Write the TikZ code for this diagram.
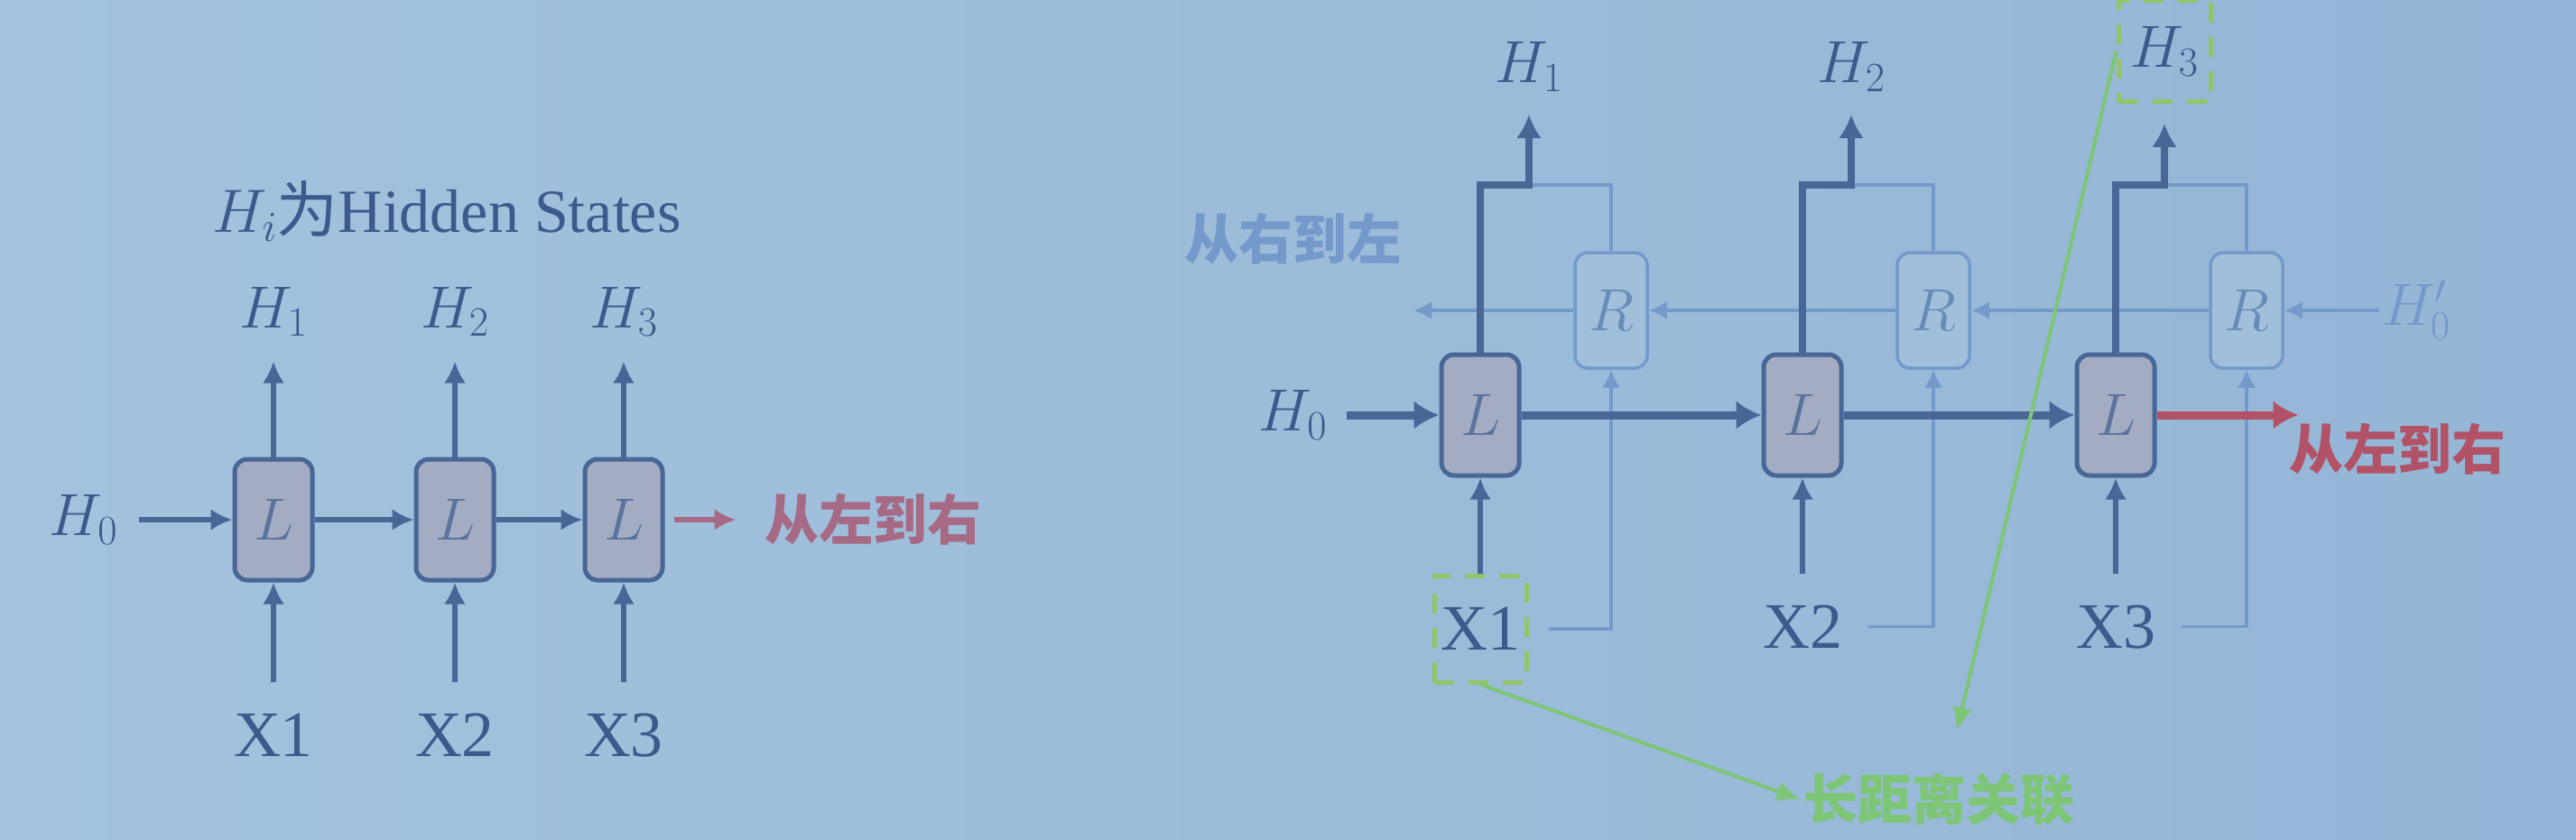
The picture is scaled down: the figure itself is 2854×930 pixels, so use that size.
\RequirePackage{fix-cm}
\documentclass[tikz,border=0pt]{standalone}
\usepackage{fontspec}
\setmainfont{Liberation Serif}
\newfontfamily\cjk{Noto Sans CJK SC}
\usetikzlibrary{positioning,arrows.meta}
\definecolor{bgl}{RGB}{164,194,221}
\definecolor{bgc}{RGB}{148,182,214}
\definecolor{linec}{RGB}{72,102,150}
\definecolor{textc}{RGB}{62,90,140}
\definecolor{cellc}{RGB}{163,172,194}
\definecolor{backc}{RGB}{116,154,204}
\definecolor{redc}{RGB}{178,82,102}
\definecolor{mauvec}{RGB}{166,106,132}
\definecolor{keyc}{RGB}{124,198,118}
\definecolor{dashc}{RGB}{148,196,104}
\tikzset{
  lcell/.style    = {draw=linec, line width=5pt, fill=cellc, rounded corners=14pt,
                     minimum width=86pt, minimum height=134pt, inner sep=0pt,
                     font=\fontsize{66}{66}\selectfont, text=textc!85!white},
  rcell/.style    = {draw=backc, line width=3.5pt, fill=bgc!88!white, rounded corners=14pt,
                     minimum width=80pt, minimum height=128pt, inner sep=0pt,
                     font=\fontsize{66}{66}\selectfont, text=backc!90!black},
  title/.style    = {text=textc, font=\fontsize{68}{68}\selectfont},
  hlab/.style     = {text=textc, font=\fontsize{66}{66}\selectfont},
  xlab/.style     = {text=textc, font=\fontsize{72}{72}\selectfont,
                     minimum width=102pt, minimum height=118pt, inner sep=0pt},
  keybox/.style   = {draw=dashc, line width=5pt, dash pattern=on 22pt off 16pt},
  cntxt/.style    = {font=\cjk\bfseries\fontsize{60}{60}\selectfont},
  flow/.style     = {-{Latex[length=24pt,width=24pt]}, line width=6pt, draw=linec},
  chain/.style    = {-{Latex[length=28pt,width=32pt]}, line width=9pt, draw=linec},
  outflow/.style  = {-{Latex[length=26pt,width=28pt]}, line width=8pt, draw=linec},
  backline/.style = {line width=3.5pt, draw=backc},
  backflow/.style = {backline, -{Latex[length=20pt,width=20pt]}},
  link/.style     = {-{Latex[length=26pt,width=22pt]}, line width=4pt, draw=keyc},
}
\begin{document}
\begin{tikzpicture}[x=1pt, y=1pt]
\fill[left color=bgl, right color=bgc] (0,0) rectangle (2854,-930);
\useasboundingbox (0,0) rectangle (2854,-930);

% one direction
\node[title] (ttl) at (495,-234) {$H_i${\cjk 为}Hidden States};
\node[lcell] (l1) at (303,-576) {$L$};
\node[lcell, right=110pt of l1] (l2) {$L$};
\node[lcell, right=96pt of l2] (l3) {$L$};
\node[hlab, above=130pt of l1] (h1) {$H_1$};
\node[hlab, above=130pt of l2] (h2) {$H_2$};
\node[hlab, above=130pt of l3] (h3) {$H_3$};
\node[xlab, below=110pt of l1] (x1) {X1};
\node[xlab, below=110pt of l2] (x2) {X2};
\node[xlab, below=110pt of l3] (x3) {X3};
\node[hlab, left=124pt of l1] (h0) {$H_0$};
\node[cntxt, text=mauvec, right=107pt of l3] (ltr) {从左到右};

\draw[flow, shorten <=20pt] (h0) -- (l1);
\draw[flow] (l1) -- (l2);
\draw[flow] (l2) -- (l3);
\draw[flow, draw=mauvec, shorten <=10pt, shorten >=28pt] (l3) -- (ltr);
\foreach \i in {1,2,3} {
  \draw[flow, shorten >=24pt] (l\i) -- (h\i);
  \draw[flow] (x\i) -- (l\i);
}

% both directions
\node[lcell] (bl1) at (1640,-460) {$L$};
\node[lcell, right=266pt of bl1] (bl2) {$L$};
\node[lcell, right=256pt of bl2] (bl3) {$L$};
\foreach \i in {1,2,3} {
  \node[rcell, xshift=145pt, yshift=116pt] (br\i) at (bl\i) {$R$};
  \path (bl\i) ++(54,255) coordinate (j\i);
}
\node[hlab, above=100pt of j1] (bh1) {$H_1$};
\node[hlab, above=100pt of j2] (bh2) {$H_2$};
\node[hlab, keybox, minimum width=102pt, minimum height=112pt, above=90pt of j3] (bh3) {$H_3$};
\node[xlab, keybox, below=106pt of bl1] (bx1) {X1};
\node[xlab, below=106pt of bl2] (bx2) {X2};
\node[xlab, below=106pt of bl3] (bx3) {X3};
\node[hlab, left=121pt of bl1] (bh0) {$H_0$};
\node[hlab, text=backc, right=105pt of br3] (bh0p) {$H'_0$};
\path (br1.west) ++(-177,0) coordinate (rend);
\path (bl3.east) ++(157,0) coordinate (lend);
\node[cntxt, text=backc, above left=47pt and 10pt of rend] (rtl) {从右到左};
\node[cntxt, text=redc, below right=6pt and -14pt of lend] (bltr) {从左到右};
\node[cntxt, text=keyc] (far) at (2148,-886) {长距离关联};

\draw[backflow] (bh0p) -- (br3);
\draw[backflow] (br3) -- (br2);
\draw[backflow] (br2) -- (br1);
\draw[backflow] (br1) -- (rend);
\foreach \i in {1,2,3} {
  \draw[backflow] (bx\i.east) ++(22,0) -| (br\i);
  \draw[backline] (br\i) |- (j\i);
}
\draw[chain, shorten <=18pt] (bh0) -- (bl1);
\draw[chain] (bl1) -- (bl2);
\draw[chain] (bl2) -- (bl3);
\draw[chain, draw=redc] (bl3) -- (lend);
\foreach \i in {1,2,3} {
  \draw[flow] (bx\i) -- (bl\i);
  \draw[outflow, shorten >=22pt] (bl\i.north) |- (j\i) -- (bh\i);
}

\draw[link] (bx1.south) -- (far.west);
\draw[link] (bh3.west) -- ([xshift=20pt,yshift=43pt]far.north);
\end{tikzpicture}
\end{document}
